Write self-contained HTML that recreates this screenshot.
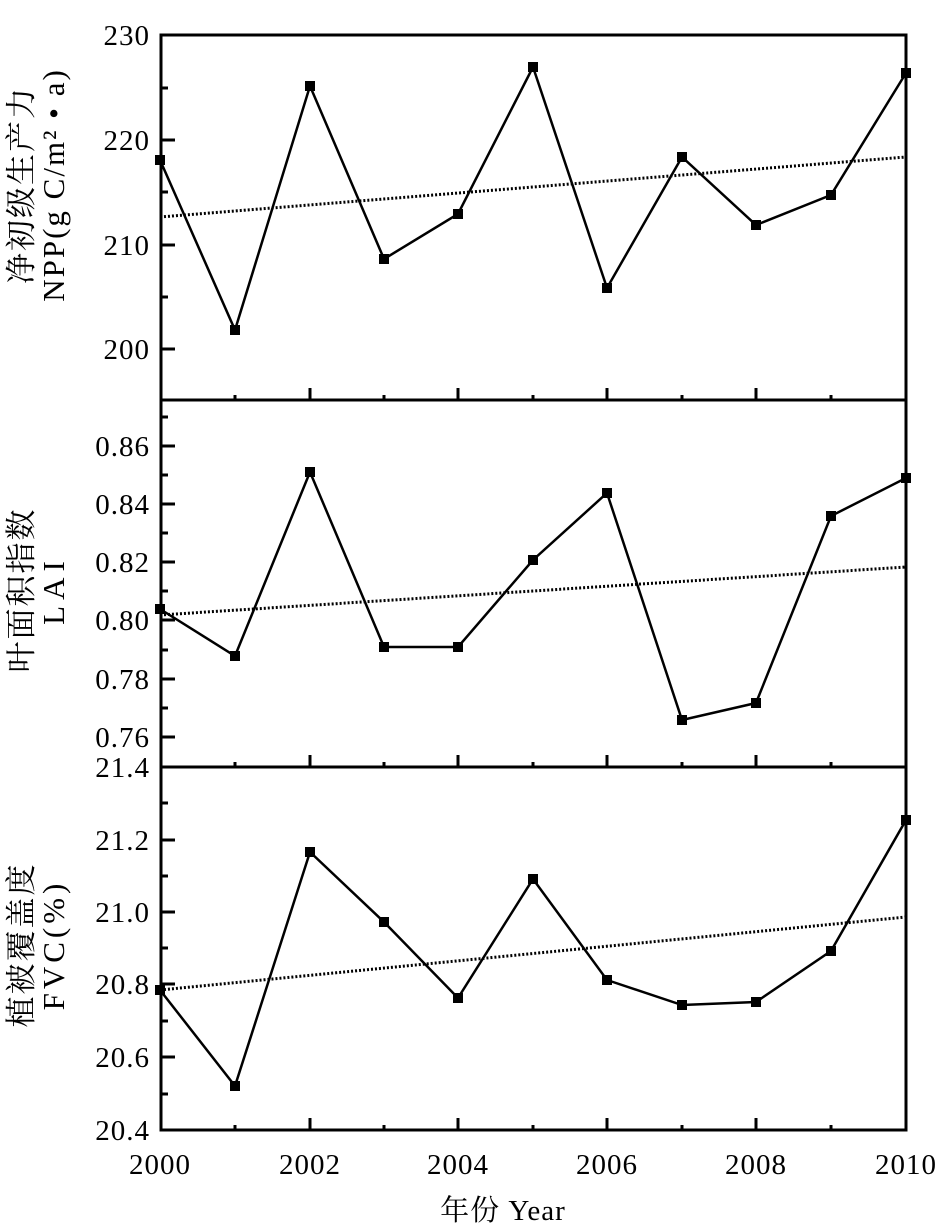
<!DOCTYPE html>
<html><head><meta charset="utf-8"><style>body{margin:0;background:#fff}svg{display:block}</style></head><body>
<svg width="942" height="1224" xmlns="http://www.w3.org/2000/svg" font-family="Liberation Serif, Noto Serif CJK SC, serif" fill="#000">
<g stroke="#000" stroke-width="3" fill="none">
<rect x="161" y="35" width="745" height="1095"/>
<line x1="161" y1="400" x2="906" y2="400"/>
<line x1="161" y1="767" x2="906" y2="767"/>
</g>
<g stroke="#000" stroke-width="3">
<path d="M161 140h14M161 245h14M161 349h14M161 88h7M161 192h7M161 297h7"/>
<path d="M161 446h14M161 504h14M161 562h14M161 620h14M161 679h14M161 737h14M161 417h7M161 475h7M161 533h7M161 591h7M161 650h7M161 708h7"/>
<path d="M161 840h14M161 912h14M161 984h14M161 1057h14M161 803h7M161 876h7M161 948h7M161 1021h7M161 1094h7"/>
<path d="M310 400v-12M458 400v-12M607 400v-12M756 400v-12M235 400v-5M384 400v-5M533 400v-5M682 400v-5M831 400v-5"/>
<path d="M310 767v-12M458 767v-12M607 767v-12M756 767v-12M235 767v-5M384 767v-5M533 767v-5M682 767v-5M831 767v-5"/>
<path d="M310 1130v-12M458 1130v-12M607 1130v-12M756 1130v-12M235 1130v-5M384 1130v-5M533 1130v-5M682 1130v-5M831 1130v-5"/>
</g>
<g stroke="#000" stroke-width="3" stroke-dasharray="2,2" fill="none">
<line x1="160" y1="217" x2="906" y2="157"/>
<line x1="160" y1="615" x2="906" y2="567"/>
<line x1="160" y1="990" x2="906" y2="917"/>
</g>
<g stroke="#000" stroke-width="2.5" fill="none">
<polyline points="160,160 235,330 310,86 384,259 458,214 533,67 607,288 682,157 756,225 831,195 906,73"/>
<polyline points="160,609 235,656 310,472 384,647 458,647 533,560 607,493 682,720 756,703 831,516 906,478"/>
<polyline points="160,990 235,1086 310,852 384,922 458,998 533,879 607,980 682,1005 756,1002 831,951 906,820"/>
</g>
<g>
<path d="M155 155h10v10h-10zM230 325h10v10h-10zM305 81h10v10h-10zM379 254h10v10h-10zM453 209h10v10h-10zM528 62h10v10h-10zM602 283h10v10h-10zM677 152h10v10h-10zM751 220h10v10h-10zM826 190h10v10h-10zM901 68h10v10h-10z"/>
<path d="M155 604h10v10h-10zM230 651h10v10h-10zM305 467h10v10h-10zM379 642h10v10h-10zM453 642h10v10h-10zM528 555h10v10h-10zM602 488h10v10h-10zM677 715h10v10h-10zM751 698h10v10h-10zM826 511h10v10h-10zM901 473h10v10h-10z"/>
<path d="M155 985h10v10h-10zM230 1081h10v10h-10zM305 847h10v10h-10zM379 917h10v10h-10zM453 993h10v10h-10zM528 874h10v10h-10zM602 975h10v10h-10zM677 1000h10v10h-10zM751 997h10v10h-10zM826 946h10v10h-10zM901 815h10v10h-10z"/>
</g>
<g font-size="29" text-anchor="end" letter-spacing="1">
<text x="150" y="45">230</text><text x="150" y="150">220</text><text x="150" y="255">210</text><text x="150" y="359">200</text>
<text x="150" y="456">0.86</text><text x="150" y="514">0.84</text><text x="150" y="572">0.82</text><text x="150" y="630">0.80</text><text x="150" y="689">0.78</text><text x="150" y="747">0.76</text>
<text x="150" y="777">21.4</text><text x="150" y="850">21.2</text><text x="150" y="922">21.0</text><text x="150" y="994">20.8</text><text x="150" y="1067">20.6</text><text x="150" y="1140">20.4</text>
</g>
<g font-size="29" text-anchor="middle" letter-spacing="1">
<text x="160" y="1174">2000</text><text x="310" y="1174">2002</text><text x="458" y="1174">2004</text><text x="607" y="1174">2006</text><text x="756" y="1174">2008</text><text x="906" y="1174">2010</text>
<text x="503" y="1220">年份 Year</text>
</g>
<g font-size="31" text-anchor="middle" letter-spacing="2">
<text transform="translate(32,185) rotate(-90)">净初级生产力</text>
<text transform="translate(64,185) rotate(-90)">NPP(g C/m² • a)</text>
<text transform="translate(32,590) rotate(-90)">叶面积指数</text>
<text transform="translate(64,590) rotate(-90)" letter-spacing="6">LAI</text>
<text transform="translate(32,945) rotate(-90)">植被覆盖度</text>
<text transform="translate(64,945) rotate(-90)" letter-spacing="4">FVC(%)</text>
</g>
</svg>
</body></html>
